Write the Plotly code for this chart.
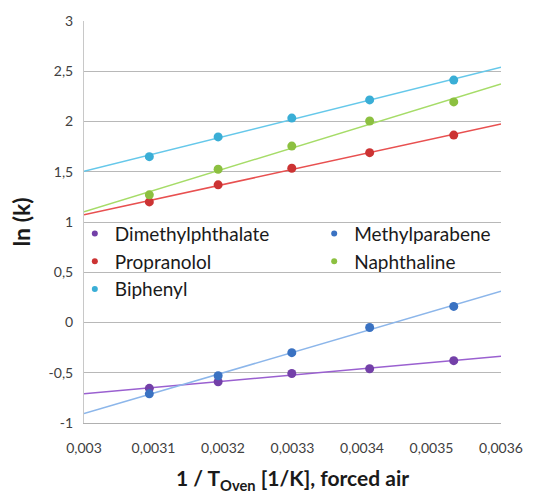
import numpy as np
import plotly.graph_objects as go

inv_T = [0.003094, 0.003193, 0.003299, 0.003411, 0.003532]
series_names = ["Dimethylphthalate", "Methylparabene", "Propranolol", "Naphthaline", "Biphenyl"]
dimethylphthalate = [-0.655, -0.59, -0.507, -0.46, -0.38]
methylparabene = [-0.71, -0.53, -0.30, -0.05, 0.16]
propranolol = [1.20, 1.37, 1.535, 1.69, 1.865]
naphthaline = [1.27, 1.525, 1.755, 2.005, 2.195]
biphenyl = [1.65, 1.847, 2.034, 2.215, 2.412]
x_ticks = [0.003, 0.0031, 0.0032, 0.0033, 0.0034, 0.0035, 0.0036]
x_ticklabels = ["0,003", "0,0031", "0,0032", "0,0033", "0,0034", "0,0035", "0,0036"]
y_ticks = [-1, -0.5, 0, 0.5, 1, 1.5, 2, 2.5, 3]
y_ticklabels = ["-1", "-0,5", "0", "0,5", "1", "1,5", "2", "2,5", "3"]
trend_range = [0.003, 0.0036]

all_values = [dimethylphthalate, methylparabene, propranolol, naphthaline, biphenyl]
marker_colors = ["#7340a8", "#3a72c2", "#cc3333", "#8cc040", "#3aaed6"]
line_colors = ["#9a60d0", "#8cb6ea", "#e85050", "#a6dc68", "#66c8ea"]
legend_column = ["legend", "legend2", "legend", "legend2", "legend"]

FONT = "Lato"
fig = go.Figure()
for vals, lc in zip(all_values, line_colors):
    k, b = np.polyfit(inv_T, vals, 1)
    xs = np.array(trend_range)
    fig.add_trace(go.Scatter(x=xs, y=k * xs + b, mode="lines", showlegend=False,
                             line=dict(color=lc, width=1.5), hoverinfo="skip"))
for name, vals, mc in zip(series_names, all_values, marker_colors):
    fig.add_trace(go.Scatter(x=inv_T, y=vals, mode="markers", name=name, showlegend=False,
                             marker=dict(color=mc, size=9, symbol="circle")))
# legend entries with small symbols, split in two columns
for name, mc, lg in zip(series_names, marker_colors, legend_column):
    fig.add_trace(go.Scatter(x=[None], y=[None], mode="markers", name=name, legend=lg,
                             marker=dict(color=mc, size=6, symbol="circle")))

legend_style = dict(xanchor="left", yanchor="top", bgcolor="rgba(0,0,0,0)",
                    font=dict(family=FONT, size=19, color="#1a1a1a"),
                    itemsizing="trace", tracegroupgap=0)

fig.update_layout(
    width=535, height=499,
    margin=dict(l=84, r=24, t=17, b=76),
    paper_bgcolor="white", plot_bgcolor="white",
    font=dict(family=FONT, color="#404040", size=14),
    showlegend=True,
    legend=dict(x=-0.022, y=0.518, **legend_style),
    legend2=dict(x=0.552, y=0.518, **legend_style),
    xaxis=dict(range=[0.003, 0.0036], tickvals=x_ticks, ticktext=x_ticklabels,
               showgrid=False, zeroline=False, showline=True, linecolor="#b0b0b0",
               linewidth=1.2, ticks="outside", ticklen=12, tickcolor="rgba(255,255,255,0)",
               tickfont=dict(size=14, color="#404040"),
               title=dict(text="<b>1 / T<sub>Oven</sub> [1/K], forced air</b>",
                          font=dict(size=21, color="#1a1a1a"), standoff=16)),
    yaxis=dict(range=[-1, 3], tickvals=y_ticks, ticktext=y_ticklabels,
               showgrid=True, gridcolor="#b8b8b8", gridwidth=1.2, zeroline=False,
               showline=True, linecolor="#c8c8c8", ticks="outside", ticklen=7,
               tickcolor="rgba(255,255,255,0)",
               tickfont=dict(size=14, color="#404040"),
               title=dict(text="<b>ln (k)</b>", font=dict(size=23, color="#1a1a1a"),
                          standoff=11)),
)
fig.write_html("out.html")
